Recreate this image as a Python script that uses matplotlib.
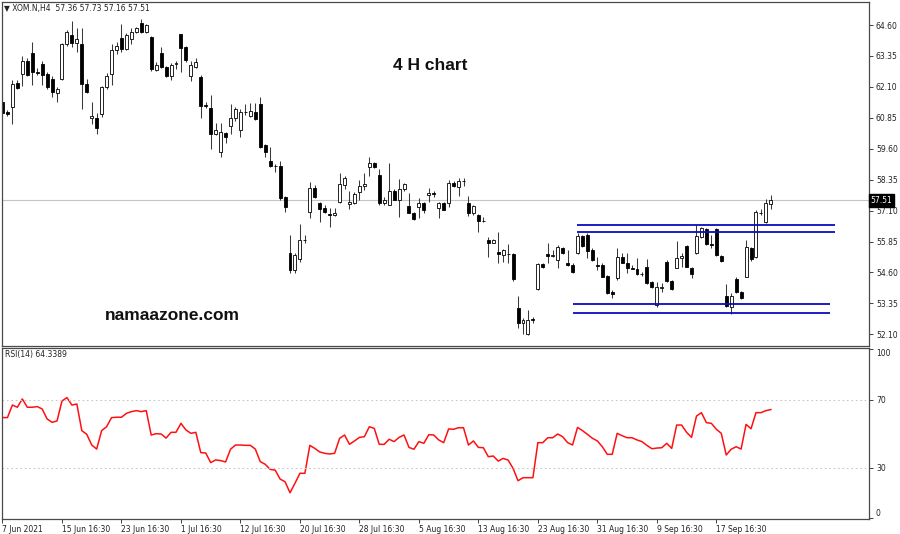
import matplotlib
matplotlib.use("Agg")
import matplotlib.pyplot as plt
import matplotlib.transforms as mtransforms

# ---------------- data ----------------
opens = [61.49, 61.09, 61.29, 62.26, 62.62, 63.15, 63.47, 62.70, 63.03, 62.62,
         62.42, 61.85, 62.42, 63.83, 64.20, 63.87, 63.83, 62.22, 60.84, 60.84,
         61.00, 62.10, 62.62, 63.59, 64.07, 63.63, 64.03, 64.32, 64.68, 64.32,
         64.12, 62.78, 63.47, 62.90, 62.54, 63.03, 64.24, 63.71, 62.54, 62.90,
         62.50, 61.35, 61.25, 60.20, 59.47, 60.24, 60.52, 60.84, 60.36, 61.07,
         60.92, 61.09, 61.41, 59.75, 59.10, 58.92, 58.90, 57.65, 55.39, 54.70,
         55.15, 55.90, 57.04, 58.01, 57.41, 57.21, 56.96, 56.92, 57.45, 58.14,
         57.37, 57.41, 57.85, 58.09, 58.86, 59.02, 58.54, 57.41, 57.33, 57.89,
         57.53, 57.97, 57.29, 57.00, 57.25, 57.41, 57.73, 57.81, 57.21, 57.41,
         57.41, 58.22, 58.05, 58.30, 57.41, 57.00, 56.92, 56.70, 55.92, 55.79,
         55.43, 55.31, 55.35, 55.35, 53.17, 52.56, 52.12, 52.72, 53.93, 54.94,
         55.35, 55.27, 55.11, 55.59, 54.98, 54.90, 55.39, 56.08, 56.12, 55.51,
         54.90, 54.90, 54.46, 53.81, 54.38, 55.23, 54.98, 54.78, 54.74, 54.54,
         54.82, 54.22, 53.29, 53.99, 55.03, 54.26, 54.78, 55.19, 55.67, 54.78,
         55.39, 56.04, 56.36, 55.75, 56.36, 55.27, 53.65, 53.21, 54.34, 53.81,
         54.42, 55.59, 55.23, 57.00, 56.64, 57.36]
highs = [61.73, 61.17, 62.38, 62.38, 63.35, 63.27, 63.91, 62.86, 63.15, 62.70,
         62.54, 62.10, 63.87, 64.40, 64.76, 64.48, 64.48, 62.42, 61.49, 61.05,
         62.14, 62.66, 63.83, 63.91, 64.64, 64.28, 64.48, 64.52, 64.84, 64.64,
         64.16, 63.11, 63.71, 62.94, 63.07, 63.15, 64.24, 63.75, 63.15, 63.27,
         62.58, 61.49, 61.77, 60.64, 60.64, 60.28, 61.41, 61.29, 61.21, 61.41,
         61.45, 61.45, 61.69, 59.79, 59.67, 58.98, 59.10, 57.69, 56.12, 55.39,
         56.56, 56.12, 58.26, 58.14, 57.45, 57.33, 57.21, 57.21, 58.62, 58.50,
         57.89, 57.85, 58.34, 58.62, 59.27, 59.06, 58.78, 57.65, 59.02, 57.97,
         58.38, 58.22, 57.81, 57.04, 57.61, 57.45, 58.01, 57.89, 57.45, 57.45,
         58.34, 58.30, 58.42, 58.42, 57.69, 57.33, 56.96, 56.84, 56.04, 55.96,
         56.24, 55.55, 55.75, 55.39, 53.65, 52.76, 53.09, 52.80, 54.98, 54.98,
         55.79, 55.51, 55.71, 55.63, 55.51, 54.98, 56.20, 56.12, 56.20, 55.59,
         55.23, 54.98, 54.50, 53.89, 55.59, 55.39, 55.39, 54.90, 55.19, 54.62,
         55.15, 54.26, 54.22, 54.17, 55.11, 54.30, 55.87, 55.39, 55.71, 54.82,
         56.52, 56.44, 56.40, 56.12, 56.40, 55.31, 54.13, 53.77, 54.42, 53.85,
         55.92, 55.63, 57.13, 57.17, 57.57, 57.73]
lows = [60.96, 60.92, 60.60, 62.02, 62.14, 62.54, 62.18, 62.58, 62.18, 62.02,
        61.69, 61.49, 62.38, 63.75, 63.71, 63.51, 61.21, 61.85, 60.60, 60.20,
        60.88, 62.02, 62.18, 63.43, 63.51, 63.59, 63.83, 64.28, 64.28, 64.28,
        62.74, 62.74, 62.86, 62.50, 62.38, 62.82, 62.70, 63.11, 62.34, 62.86,
        60.84, 61.25, 59.59, 60.16, 59.27, 59.83, 60.20, 60.72, 60.08, 60.96,
        60.88, 60.76, 59.63, 59.27, 58.86, 58.66, 57.53, 57.04, 54.58, 54.58,
        55.03, 55.79, 56.80, 57.61, 56.64, 57.00, 56.44, 56.88, 57.41, 57.97,
        57.17, 57.37, 57.53, 57.93, 58.50, 58.82, 57.33, 57.33, 57.33, 57.53,
        56.84, 57.89, 57.00, 56.72, 56.80, 57.00, 57.45, 57.65, 56.80, 57.13,
        57.25, 58.05, 57.69, 58.09, 56.88, 56.92, 56.24, 56.64, 55.23, 55.79,
        54.98, 55.03, 54.98, 54.26, 52.36, 52.12, 52.08, 52.56, 53.89, 54.78,
        54.98, 55.23, 54.78, 55.35, 54.86, 54.58, 55.35, 55.63, 55.19, 55.07,
        54.70, 54.42, 53.73, 53.57, 54.30, 54.98, 54.58, 54.74, 54.50, 54.46,
        54.13, 53.97, 53.21, 53.81, 54.22, 53.89, 54.78, 54.82, 54.82, 54.38,
        55.35, 56.00, 55.71, 55.59, 55.27, 55.03, 53.21, 52.92, 53.77, 53.53,
        54.42, 55.07, 55.19, 56.92, 56.60, 57.16]
closes = [61.05, 61.00, 62.22, 62.06, 63.15, 62.58, 62.70, 62.68, 62.58, 62.10,
          61.89, 62.02, 63.83, 64.32, 63.87, 64.03, 62.22, 61.89, 60.92, 60.44,
          62.10, 62.54, 63.59, 63.75, 63.63, 64.20, 64.32, 64.48, 64.32, 64.60,
          62.82, 62.99, 62.90, 62.54, 62.99, 63.07, 63.67, 63.19, 62.99, 63.11,
          61.33, 61.31, 60.20, 60.36, 60.28, 60.08, 60.84, 61.21, 61.09, 61.09,
          61.13, 60.80, 59.67, 59.47, 58.90, 58.90, 57.61, 57.25, 54.70, 55.31,
          55.92, 55.92, 58.01, 57.65, 57.17, 57.04, 56.94, 57.00, 58.18, 58.42,
          57.45, 57.77, 58.09, 58.16, 59.02, 58.86, 57.41, 57.53, 57.89, 57.53,
          57.97, 58.18, 57.00, 56.76, 57.41, 57.13, 57.81, 57.79, 57.41, 57.13,
          58.22, 58.09, 58.30, 58.28, 57.00, 57.29, 56.68, 56.68, 55.79, 55.92,
          55.35, 55.51, 55.33, 54.34, 52.56, 52.68, 52.68, 52.70, 54.94, 54.82,
          55.27, 55.29, 55.63, 55.39, 54.90, 54.62, 56.08, 55.67, 55.47, 55.11,
          54.88, 54.42, 53.77, 53.73, 55.23, 54.98, 54.78, 54.76, 54.54, 54.52,
          54.17, 54.01, 54.01, 54.01, 54.26, 53.93, 55.19, 55.27, 54.82, 54.54,
          56.08, 56.40, 55.75, 55.71, 55.31, 55.07, 53.25, 53.65, 53.81, 53.57,
          55.63, 55.15, 57.04, 57.02, 57.41, 57.51]
rsi = [59.6, 59.6, 67.0, 65.7, 70.6, 65.7, 65.7, 66.1, 64.7, 58.8,
       56.8, 57.6, 69.4, 71.4, 67.0, 67.6, 51.9, 49.7, 43.4, 41.0,
       51.9, 54.2, 59.6, 59.8, 59.8, 62.1, 63.1, 63.7, 63.1, 63.7,
       49.3, 50.1, 49.9, 47.5, 50.9, 50.9, 56.2, 52.3, 50.3, 50.9,
       38.9, 38.7, 33.0, 34.6, 34.2, 33.4, 40.9, 43.4, 43.4, 43.2,
       43.2, 41.0, 33.6, 32.0, 29.0, 28.6, 23.3, 21.7, 15.2, 20.8,
       26.7, 26.7, 43.2, 41.4, 39.3, 38.5, 38.1, 38.5, 47.3, 49.3,
       43.8, 45.8, 47.9, 48.3, 54.2, 53.2, 43.8, 43.8, 46.8, 45.4,
       47.9, 49.3, 42.0, 40.9, 45.4, 44.4, 49.5, 49.3, 46.4, 44.8,
       52.9, 52.7, 53.6, 53.6, 43.4, 45.8, 42.0, 41.8, 36.5, 36.9,
       33.9, 35.5, 34.5, 29.6, 22.3, 24.1, 24.1, 24.1, 44.8, 44.8,
       47.7, 47.7, 49.9, 48.3, 44.8, 43.4, 53.8, 51.9, 49.7, 47.4,
       45.8, 42.4, 37.9, 37.9, 50.3, 48.9, 47.7, 47.7, 46.4, 45.4,
       43.2, 41.2, 41.6, 41.8, 44.4, 41.4, 55.2, 55.2, 50.9, 47.9,
       60.5, 62.5, 56.6, 56.2, 52.7, 50.3, 37.5, 40.9, 42.4, 41.0,
       55.6, 53.0, 62.5, 62.5, 63.7, 64.34]

date_labels = ["7 Jun 2021", "15 Jun 16:30", "23 Jun 16:30", "1 Jul 16:30",
               "12 Jul 16:30", "20 Jul 16:30", "28 Jul 16:30", "5 Aug 16:30",
               "13 Aug 16:30", "23 Aug 16:30", "31 Aug 16:30", "9 Sep 16:30",
               "17 Sep 16:30"]
date_label_bars = [0, 12, 24, 36, 48, 60, 72, 84, 96, 108, 120, 132, 144]
price_ticks = [52.10, 53.35, 54.60, 55.85, 57.10, 58.35, 59.60, 60.85, 62.10, 63.35, 64.60]
rsi_ticks = [0, 30, 70, 100]
rsi_levels = [30, 70]
last_price = 57.51
# horizontal support / resistance lines: price, start bar, end bar
zone_prices = [56.52, 56.23, 53.32, 52.96]
zone_start = [115.9, 115.9, 115.1, 115.1]
zone_end = [167.9, 167.9, 166.9, 166.9]

# ---------------- figure ----------------
W, H = 900, 534
fig = plt.figure(figsize=(W / 100, H / 100), dpi=100)
fig.patch.set_facecolor("white")
ax = fig.add_axes([2 / W, 1 - 346 / H, 867 / W, 344 / H])
ax2 = fig.add_axes([2 / W, 1 - 519 / H, 867 / W, 171 / H])

n = len(closes)
xs = list(range(n))
xlim = (-0.1, 174.8)

spine_col = "#4a4a4a"
txt_col = "#222222"
fs = 5.5

# candles
ax.vlines(xs, lows, highs, color="#3a3a3a", linewidth=0.75, zorder=1)
for i in xs:
    o, c = opens[i], closes[i]
    bottom = min(o, c)
    h = max(abs(c - o), 0.015)
    fc = "white" if c >= o else "black"
    ax.bar(i, h, bottom=bottom, width=0.6, color=fc, edgecolor="black",
           linewidth=0.6, zorder=2)

# current price line
ax.axhline(last_price, color="#c4c4c4", linewidth=0.8, zorder=0)

# blue zone lines
for p, s, e in zip(zone_prices, zone_start, zone_end):
    ax.hlines(p, s, e, color="#0b0bc0", linewidth=1.3, zorder=3)

ax.set_xlim(*xlim)
ax.set_ylim(51.63, 65.53)
ax.yaxis.tick_right()
ax.set_yticks(price_ticks)
ax.set_yticklabels([f"{t:.2f}" for t in price_ticks])
ax.tick_params(axis="y", direction="out", length=3, width=0.6, labelsize=fs,
               pad=2, colors=txt_col)
ax.tick_params(axis="x", bottom=False, labelbottom=False)

# price tag
tr = mtransforms.blended_transform_factory(ax.transAxes, ax.transData)
ax.text(1.002, last_price, f"{last_price:.2f}", transform=tr, ha="left",
        va="center", color="white", fontsize=fs,
        bbox=dict(boxstyle="square,pad=0.2", fc="black", ec="black"), zorder=5)

# RSI panel
ax2.plot(xs, rsi, color="#ff1010", linewidth=1.1)
for lv in rsi_levels:
    ax2.axhline(lv, color="#c8c8c8", linewidth=0.8, linestyle=(0, (1.5, 2.5)))
ax2.set_xlim(*xlim)
ax2.set_ylim(-0.3, 100.7)
ax2.yaxis.tick_right()
ax2.set_yticks(rsi_ticks)
ax2.set_yticklabels([str(t) for t in rsi_ticks])
ax2.tick_params(axis="y", direction="out", length=3, width=0.6, labelsize=fs,
                pad=2, colors=txt_col)
for lbl in ax2.get_yticklabels():
    if lbl.get_text() == "100":
        lbl.set_va("top")
    elif lbl.get_text() == "0":
        lbl.set_va("bottom")
ax2.set_xticks(date_label_bars)
ax2.set_xticklabels(date_labels, ha="left")
ax2.tick_params(axis="x", direction="out", length=3, width=0.6, labelsize=fs,
                pad=1.5, colors=txt_col)

for a in (ax, ax2):
    for sp in a.spines.values():
        sp.set_color(spine_col)
        sp.set_linewidth(0.9)

# texts
fig.text(4 / W, 1 - 8 / H, "\u25bc XOM.N,H4  57.36 57.73 57.16 57.51",
         fontsize=fs, color=txt_col, va="center", ha="left")
fig.text(5 / W, 1 - 354 / H, "RSI(14) 64.3389", fontsize=fs, color=txt_col,
         va="center", ha="left")
fig.text(430 / W, 1 - 65 / H, "4 H chart", fontsize=12.5, fontweight="bold",
         family="Liberation Sans", color="#111111", ha="center", va="center")
fig.text(172 / W, 1 - 316 / H, "namaazone.com", fontsize=12.5,
         fontweight="bold", family="Liberation Sans", color="#111111",
         ha="center", va="center")

fig.savefig("out.png", dpi=100, facecolor="white")
